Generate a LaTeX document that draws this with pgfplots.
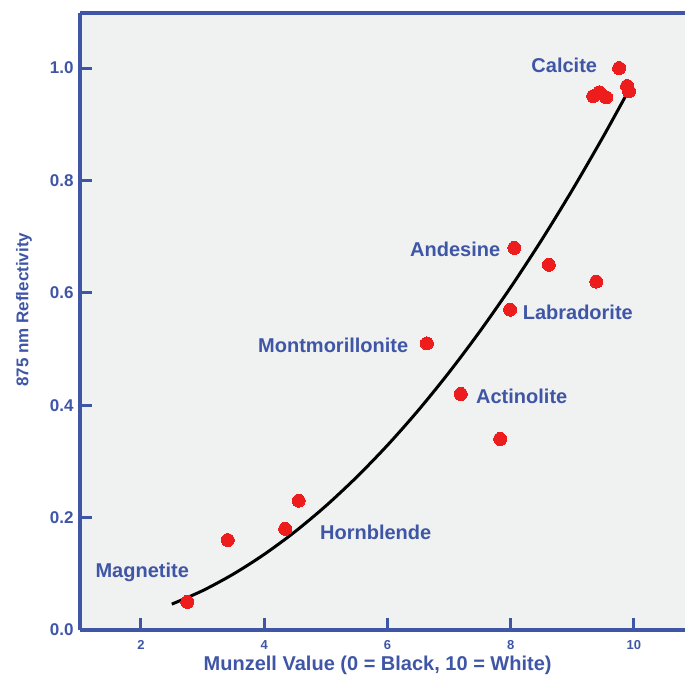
\documentclass[border=0pt]{standalone}
\usepackage{fontspec}
\setmainfont{Liberation Sans}
\usepackage{pgfplots}
\pgfplotsset{compat=1.18}
\definecolor{axblue}{HTML}{3F56A6}
\definecolor{bg}{HTML}{F0F1F1}
\definecolor{dotred}{HTML}{EE1D1D}
\begin{document}
\begin{tikzpicture}
\begin{axis}[
  at={(0,0)}, anchor=south west,
  scale only axis, width=605pt, height=617pt,
  xmin=1.01, xmax=10.83, ymin=0, ymax=1.098,
  axis lines*=left,
  axis line style={axblue, line width=3.5pt, -},
  axis background/.style={fill=bg},
  xtick={2,4,6,8,10}, ytick={0,0.2,0.4,0.6,0.8,1.0},
  tick align=inside,
  major tick length=12pt,
  xtick style={axblue, line width=3pt},
  ytick style={axblue, line width=3pt},
  /pgf/number format/assume math mode=true,
  yticklabel style={/pgf/number format/fixed, /pgf/number format/fixed zerofill, /pgf/number format/precision=1,
    font=\fontsize{17}{17}\selectfont\bfseries, text=axblue, xshift=-3pt},
  xticklabel style={font=\fontsize{13}{13}\selectfont\bfseries, text=axblue, yshift=-7pt},
  xlabel={Munzell Value (0 = Black, 10 = White)},
  ylabel={875 nm Reflectivity},
  xlabel style={font=\fontsize{20}{20}\selectfont\bfseries, text=axblue,
    at={(axis description cs:0.492,0)}, anchor=center, yshift=-35pt},
  ylabel style={font=\fontsize{17}{17}\selectfont\bfseries, text=axblue,
    at={(axis description cs:-0.0926,0.519)}, anchor=center},
  clip=false,
]
\addplot[black, line width=3pt, smooth] coordinates {
  (2.5,0.046) (3,0.070) (3.5,0.0996) (4,0.1346) (4.5,0.175) (5,0.2208)
  (5.5,0.2721) (6,0.3287) (6.5,0.3908) (7,0.4584) (7.5,0.5314) (8,0.6098)
  (8.5,0.6936) (9,0.7829) (9.5,0.8775) (9.9,0.957)
};
\addplot[dotred, only marks, mark=*, mark size=6.5pt, mark options={draw=dotred, fill=dotred, line width=0pt}] coordinates {
  (2.75,0.05) (3.41,0.16) (4.34,0.18) (4.56,0.23)
  (6.64,0.51) (7.19,0.42) (7.83,0.34) (7.99,0.57)
  (8.06,0.68) (8.62,0.65) (9.39,0.62)
  (9.34,0.95) (9.44,0.957) (9.55,0.948) (9.76,1.0) (9.89,0.968) (9.92,0.959)
};
\begin{scope}[every node/.style={font=\fontsize{20}{20}\selectfont\bfseries, text=axblue}]
\node at (axis cs:8.87,1.005) {Calcite};
\node at (axis cs:7.10,0.678) {Andesine};
\node at (axis cs:9.09,0.566) {Labradorite};
\node at (axis cs:5.12,0.507) {Montmorillonite};
\node at (axis cs:8.18,0.415) {Actinolite};
\node at (axis cs:5.81,0.173) {Hornblende};
\node at (axis cs:2.02,0.103) {Magnetite};
\end{scope}
\end{axis}
\draw[axblue, line width=3.5pt] (0,617pt) -- (605pt,617pt);
\pgfresetboundingbox
\path[use as bounding box] (-80pt,-47pt) rectangle (605pt,630pt);
\end{tikzpicture}
\end{document}
